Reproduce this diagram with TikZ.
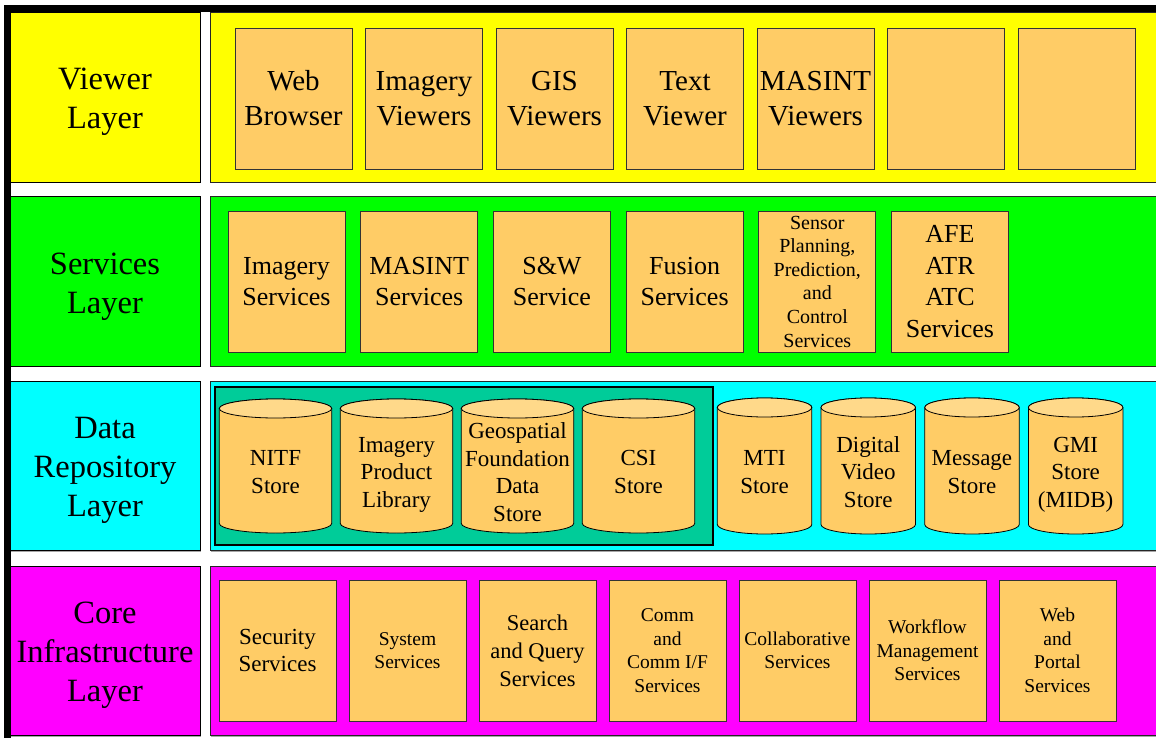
\documentclass[tikz,border=0pt]{standalone}
\usepackage{fontspec}
\setmainfont{Liberation Serif}
\usetikzlibrary{shadows}
\definecolor{vyellow}{HTML}{FFFF00}
\definecolor{sgreen}{HTML}{00FF00}
\definecolor{dcyan}{HTML}{00FFFF}
\definecolor{cmag}{HTML}{FF00FF}
\definecolor{boxor}{HTML}{FFCC66}
\definecolor{cyltopc}{HTML}{FFD98A}
\definecolor{tealg}{HTML}{00CC99}
\definecolor{boxedge}{HTML}{333333}
\tikzset{
  layerlabel/.style={draw=black, line width=0.9pt, inner sep=0pt,
    minimum width=190pt,
    drop shadow={shadow xshift=1.2pt, shadow yshift=-1.2pt, fill=black!35, opacity=1}},
  labeltext/.style={inner sep=0pt, align=center, font=\fontsize{32.5}{39}\selectfont},
  layerpanel/.style={draw=black!85, line width=0.9pt, inner sep=0pt,
    minimum width=955pt,
    drop shadow={shadow xshift=1.2pt, shadow yshift=-1.2pt, fill=black!35, opacity=1}},
  obox/.style={draw=boxedge, line width=0.9pt, fill=boxor, inner sep=0pt, align=center,
    minimum width=117pt, minimum height=141pt},
  cylline/.style={draw=black, line width=0.8pt},
  cyltext/.style={inner sep=0pt, align=center, font=\fontsize{23}{27.5}\selectfont},
}
\newcommand\mycyl[7]{%
  \pgfmathsetmacro\cx{#2+#3/2}%
  \pgfmathsetmacro\rx{#3/2}%
  \pgfmathsetmacro\cy{(#4+#5)/2+6+#6}%
  \draw[cylline, fill=boxor] (#2,#4+9.5) -- (#2,#5-9.5)
     arc[start angle=180, end angle=360, x radius=\rx pt, y radius=9.5pt]
     -- (#2+#3,#4+9.5)
     arc[start angle=0, end angle=180, x radius=\rx pt, y radius=9.5pt] -- cycle;
  \draw[cylline, fill=cyltopc] (\cx,#4+9.5) ellipse[x radius=\rx pt, y radius=9.5pt];
  \node[cyltext] (#1) at (\cx,\cy) {#7};
}
\begin{document}
\begin{tikzpicture}[x=1pt, y=-1pt]
\useasboundingbox (0,0) rectangle (1156,738);
% outer frame
\draw[line width=6.6pt] (7.2,760) -- (7.2,8.6) -- (1175,8.6);

% layer labels
\node[layerlabel, fill=vyellow, minimum height=170pt] (vl) at (105,97) {};
\node[layerlabel, fill=sgreen, minimum height=169.5pt] (sl) at (105,281.25) {};
\node[layerlabel, fill=dcyan, minimum height=169.5pt] (dl) at (105,465.75) {};
\node[layerlabel, fill=cmag, minimum height=169.5pt] (cl) at (105,650.75) {};
\node[labeltext] (vlt) at (105,102) {Viewer\\Layer};
\node[labeltext] (slt) at (105,286.25) {Services\\Layer};
\node[labeltext] (dlt) at (105,470.75) {Data\\Repository\\Layer};
\node[labeltext] (clt) at (105,655.25) {Core\\Infrastructure\\Layer};

% layer panels
\node[layerpanel, fill=vyellow, minimum height=170pt] (vp) at (687.5,97) {};
\node[layerpanel, fill=sgreen, minimum height=169.5pt] (sp) at (687.5,281.25) {};
\node[layerpanel, fill=dcyan, minimum height=169.5pt] (dp) at (687.5,465.75) {};
\node[layerpanel, fill=cmag, minimum height=169.5pt] (cp) at (687.5,650.75) {};

% viewer layer
\begin{scope}[every node/.append style={font=\fontsize{29}{35}\selectfont}]
\node[obox] (v1) at (293.5,98.5) {Web\\Browser};
\node[obox] (v2) at (424,98.5) {Imagery\\Viewers};
\node[obox] (v3) at (554.5,98.5) {GIS\\Viewers};
\node[obox] (v4) at (685,98.5) {Text\\Viewer};
\node[obox] (v5) at (815.5,98.5) {MASINT\\Viewers};
\node[obox] (v6) at (946,98.5) {};
\node[obox] (v7) at (1076.5,98.5) {};
\end{scope}

% services layer
\begin{scope}[every node/.append style={font=\fontsize{26}{31.5}\selectfont}]
\node[obox] (s1) at (286.5,281.5) {Imagery\\Services};
\node[obox] (s2) at (419.2,281.5) {MASINT\\Services};
\node[obox] (s3) at (551.9,281.5) {S\&W\\Service};
\node[obox] (s4) at (684.6,281.5) {Fusion\\Services};
\node[obox, font=\fontsize{20}{23.6}\selectfont] (s5) at (817.3,281.5) {Sensor\\Planning,\\Prediction,\\and\\Control\\Services};
\node[obox] (s6) at (950,281.5) {AFE\\ATR\\ATC\\Services};
\end{scope}

% data repository layer
\node[draw=black, line width=2.2pt, fill=tealg, inner sep=0pt, minimum width=498pt, minimum height=158pt] (dg) at (464,466) {};
\mycyl{d1}{219.3}{112.4}{399}{533}{0}{NITF\\Store}
\mycyl{d2}{340.3}{112.4}{399}{533}{2.5}{Imagery\\Product\\Library}
\mycyl{d3}{461.3}{112.4}{399}{533}{0}{Geospatial\\Foundation\\Data\\Store}
\mycyl{d4}{582.3}{112.4}{399}{533}{0}{CSI\\Store}
\mycyl{d5}{717.3}{94.5}{398}{534}{0}{MTI\\Store}
\mycyl{d6}{821}{94.5}{398}{534}{0}{Digital\\Video\\Store}
\mycyl{d7}{924.7}{94.5}{398}{534}{0}{Message\\Store}
\mycyl{d8}{1028.4}{94.5}{398}{534}{2.5}{GMI\\Store\\(MIDB)}

% core infrastructure layer
\begin{scope}[every node/.append style={font=\fontsize{19.5}{23.6}\selectfont}]
\node[obox, font=\fontsize{23}{27}\selectfont] (c1) at (277.5,650.5) {Security\\Services};
\node[obox] (c2) at (407.5,650.5) {System\\Services};
\node[obox, font=\fontsize{22.5}{28}\selectfont] (c3) at (537.5,650.5) {Search\\and Query\\Services};
\node[obox] (c4) at (667.5,650.5) {Comm\\and\\Comm I/F\\Services};
\node[obox] (c5) at (797.5,650.5) {Collaborative\\Services};
\node[obox] (c6) at (927.5,650.5) {Workflow\\Management\\Services};
\node[obox] (c7) at (1057.5,650.5) {Web\\and\\Portal\\Services};
\end{scope}
\end{tikzpicture}
\end{document}
